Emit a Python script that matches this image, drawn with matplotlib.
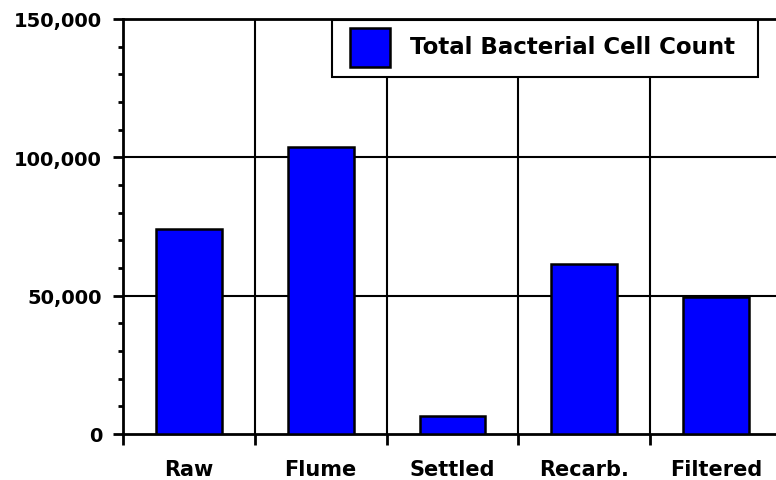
import matplotlib
matplotlib.use("Agg")
import matplotlib.pyplot as plt
from matplotlib.patches import Rectangle
from matplotlib.ticker import MultipleLocator, FuncFormatter

categories = ["Raw", "Flume", "Settled", "Recarb.", "Filtered"]
cell_counts = [74000, 103700, 6500, 61400, 49600]
series_name = "Total Bacterial Cell Count"
y_ticks = [0, 50000, 100000, 150000]

W, H = 776, 481
fig = plt.figure(figsize=(W / 100, H / 100), dpi=100)
ax = fig.add_axes([123 / W, 1 - 435 / H, 659 / W, 415 / H])

x = list(range(len(categories)))
ax.bar(x, cell_counts, width=0.5, color="#0000FF", edgecolor="black",
       linewidth=1.8, zorder=3)

ax.set_xlim(-0.5, len(categories) - 0.5)
ax.set_ylim(0, 150000)

# grid lines
for yv in y_ticks[1:-1]:
    ax.axhline(yv, color="black", linewidth=1.5, zorder=1)
for b in range(len(categories) - 1):
    ax.axvline(b + 0.5, color="black", linewidth=1.5, zorder=1)

for side in ["left", "bottom", "top"]:
    ax.spines[side].set_linewidth(2.0)
ax.spines["right"].set_visible(False)

# y axis ticks
ax.set_yticks(y_ticks)
ax.yaxis.set_minor_locator(MultipleLocator(10000))
ax.yaxis.set_major_formatter(FuncFormatter(lambda v, p: f"{int(v):,}"))
ax.tick_params(axis="y", which="major", direction="out", length=7, width=2,
               pad=8, labelsize=14)
ax.tick_params(axis="y", which="minor", direction="out", length=3.6, width=2)
for lab in ax.get_yticklabels():
    lab.set_fontweight("bold")
    lab.set_family("DejaVu Sans")

# x axis: ticks at boundaries, labels at centers
ax.set_xticks([b - 0.5 for b in range(len(categories) + 1)])
ax.set_xticklabels([])
ax.set_xticks(x, minor=True)
ax.set_xticklabels(categories, minor=True, fontsize=15, fontweight="bold",
                   family="DejaVu Sans")
ax.tick_params(axis="x", which="major", direction="out", length=8, width=2)
ax.tick_params(axis="x", which="minor", length=0, pad=18)

# legend (manual, in pixel coordinates)
def px(xp, yp):
    return (xp / W, 1 - yp / H)

lx0, ly0, lx1, ly1 = 332, 21, 758, 78
fig.patches.append(Rectangle(px(lx0, ly1), (lx1 - lx0) / W, (ly1 - ly0) / H,
                             transform=fig.transFigure, facecolor="white",
                             edgecolor="black", linewidth=1.5, zorder=5))
fig.patches.append(Rectangle(px(350, 68), 40 / W, 39 / H,
                             transform=fig.transFigure, facecolor="#0000FF",
                             edgecolor="black", linewidth=1.8, zorder=6))
fig.text(410 / W, 1 - 48 / H, series_name, fontsize=16.5, fontweight="bold",
         family="DejaVu Sans", va="center", ha="left", zorder=7)

fig.savefig("out.png", dpi=100)
